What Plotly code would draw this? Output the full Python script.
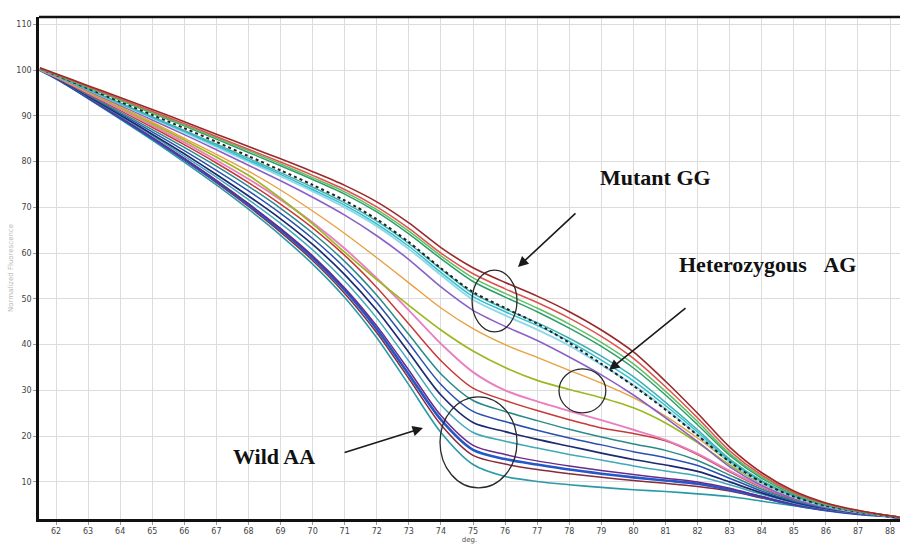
import plotly.graph_objects as go

# temperature nodes (deg)
temps = [61.5, 62, 63, 64, 65, 66, 67, 68, 69, 70, 71, 72, 73, 74, 75, 76, 77, 78,
         79, 80, 81, 82, 83, 84, 85, 86, 87, 88, 88.3]

# ---- Mutant GG curves ----
mut_1 = [100.5, 99.2, 96.6, 94.0, 91.4, 88.7, 86.0, 83.3, 80.6, 77.8, 74.8, 71.2, 66.6, 61.2, 56.8, 53.6, 50.6, 47.2, 43.2, 38.4, 32.0, 25.0, 17.6, 12.0, 8.0, 5.4, 3.8, 2.6, 2.3]
mut_2 = [100.4, 99.1, 96.4, 93.7, 91.0, 88.3, 85.5, 82.7, 79.9, 77.0, 73.9, 70.1, 65.4, 60.0, 55.5, 52.2, 49.2, 45.8, 41.8, 37.0, 30.8, 24.0, 16.8, 11.5, 7.7, 5.3, 3.7, 2.6, 2.3]
mut_3 = [100.4, 99.0, 96.3, 93.5, 90.8, 88.0, 85.2, 82.4, 79.5, 76.5, 73.4, 69.5, 64.8, 59.4, 54.6, 51.2, 48.0, 44.5, 40.5, 35.8, 29.8, 23.2, 16.2, 11.1, 7.5, 5.1, 3.7, 2.6, 2.3]
mut_4 = [100.3, 99.0, 96.2, 93.4, 90.6, 87.8, 84.9, 82.0, 79.1, 76.1, 72.9, 69.0, 64.2, 58.8, 53.8, 50.4, 47.2, 43.6, 39.6, 34.9, 29.0, 22.5, 15.8, 10.8, 7.3, 5.0, 3.6, 2.6, 2.3]
mut_5 = [100.3, 98.9, 96.0, 93.1, 90.2, 87.3, 84.3, 81.2, 78.1, 74.9, 71.5, 67.4, 62.4, 56.7, 51.5, 48.0, 44.6, 40.4, 35.8, 31.0, 25.8, 20.2, 14.4, 9.9, 6.8, 4.8, 3.5, 2.5, 2.2]
mut_6 = [100.2, 98.8, 95.8, 92.8, 89.8, 86.8, 83.8, 80.7, 77.6, 74.4, 71.0, 67.0, 62.1, 56.5, 51.2, 47.8, 44.8, 41.4, 37.5, 33.0, 27.4, 21.4, 15.0, 10.3, 7.0, 4.9, 3.5, 2.5, 2.2]
mut_7 = [100.2, 98.8, 95.7, 92.7, 89.6, 86.6, 83.5, 80.3, 77.2, 73.9, 70.5, 66.4, 61.5, 55.8, 50.5, 47.2, 44.2, 40.7, 36.6, 32.1, 26.7, 20.9, 14.7, 10.1, 6.9, 4.8, 3.5, 2.5, 2.2]
mut_8 = [100.2, 98.8, 95.7, 92.6, 89.5, 86.4, 83.2, 80.0, 76.8, 73.5, 70.0, 65.9, 60.9, 55.2, 49.8, 46.4, 43.3, 39.8, 35.6, 31.2, 26.0, 20.3, 14.3, 9.8, 6.7, 4.7, 3.4, 2.5, 2.2]
mut_9 = [100.2, 98.7, 95.5, 92.3, 89.1, 85.9, 82.6, 79.2, 75.8, 72.2, 68.3, 63.8, 58.6, 52.6, 47.5, 44.0, 40.9, 37.3, 33.4, 29.0, 24.0, 18.8, 13.3, 9.2, 6.3, 4.5, 3.3, 2.5, 2.2]

# ---- Heterozygous AG curves ----
het_1 = [100.1, 98.6, 95.3, 92.0, 88.6, 85.1, 81.6, 77.9, 73.8, 69.2, 64.3, 59.0, 53.5, 48.0, 43.5, 40.0, 37.2, 34.4, 31.6, 28.4, 24.4, 19.6, 14.3, 10.0, 7.0, 5.0, 3.6, 2.6, 2.3]
het_2 = [100.1, 98.6, 95.2, 91.8, 88.3, 84.7, 81.0, 77.0, 72.0, 66.4, 60.2, 54.2, 48.6, 43.2, 38.6, 35.0, 32.2, 30.2, 28.4, 26.2, 22.9, 18.6, 13.7, 9.7, 6.8, 4.9, 3.5, 2.6, 2.3]
het_3 = [100.0, 98.5, 95.0, 91.5, 87.9, 84.2, 80.3, 76.2, 71.7, 66.7, 61.0, 54.5, 47.5, 40.2, 34.0, 30.0, 27.6, 25.5, 23.5, 21.4, 19.2, 16.2, 12.4, 9.0, 6.4, 4.6, 3.4, 2.5, 2.2]

# ---- Wild AA curves ----
wild_1 = [100.0, 98.4, 94.8, 91.2, 87.5, 83.7, 79.7, 75.4, 70.7, 65.5, 59.5, 52.5, 44.5, 36.5, 30.5, 27.8, 25.6, 23.6, 21.8, 20.6, 19.0, 16.0, 12.2, 8.8, 6.2, 4.5, 3.3, 2.5, 2.2]
wild_2 = [100.0, 98.4, 94.6, 90.8, 87.0, 83.1, 79.0, 74.6, 69.8, 64.4, 58.2, 50.8, 42.2, 33.6, 27.8, 25.4, 23.4, 21.5, 19.8, 18.3, 16.9, 14.7, 11.5, 8.4, 6.0, 4.4, 3.3, 2.5, 2.2]
wild_3 = [100.0, 98.4, 94.5, 90.5, 86.5, 82.4, 78.1, 73.6, 68.7, 63.2, 56.8, 49.2, 40.3, 31.3, 25.4, 23.2, 21.3, 19.6, 18.1, 16.6, 15.3, 13.6, 10.8, 8.0, 5.8, 4.3, 3.2, 2.5, 2.2]
wild_4 = [100.0, 98.3, 94.3, 90.2, 86.0, 81.7, 77.2, 72.5, 67.5, 61.9, 55.3, 47.5, 38.3, 29.0, 23.0, 21.0, 19.3, 17.8, 16.3, 14.9, 13.7, 12.3, 10.0, 7.6, 5.6, 4.2, 3.2, 2.5, 2.2]
wild_5 = [100.0, 98.3, 94.2, 90.0, 85.7, 81.2, 76.6, 71.7, 66.5, 60.7, 53.9, 45.8, 36.4, 26.8, 20.8, 18.9, 17.4, 16.0, 14.8, 13.5, 12.4, 11.3, 9.4, 7.3, 5.4, 4.1, 3.1, 2.4, 2.2]
wild_6 = [100.0, 98.3, 94.0, 89.7, 85.3, 80.7, 75.9, 70.8, 65.4, 59.4, 52.4, 44.1, 34.4, 24.5, 18.0, 16.0, 14.6, 13.5, 12.5, 11.6, 10.8, 10.0, 8.6, 6.8, 5.1, 3.9, 3.0, 2.4, 2.1]
wild_7 = [100.0, 98.2, 94.0, 89.6, 85.1, 80.5, 75.7, 70.6, 65.1, 59.0, 51.9, 43.4, 33.5, 23.6, 17.0, 15.0, 13.8, 12.7, 11.8, 11.0, 10.3, 9.6, 8.3, 6.7, 5.0, 3.8, 3.0, 2.4, 2.1]
wild_8 = [100.0, 98.2, 93.9, 89.5, 85.0, 80.3, 75.4, 70.2, 64.6, 58.4, 51.2, 42.6, 32.6, 22.5, 15.8, 13.9, 12.7, 11.8, 11.0, 10.3, 9.7, 9.0, 8.0, 6.5, 5.0, 3.8, 3.0, 2.4, 2.1]
wild_9 = [100.0, 98.2, 93.8, 89.3, 84.7, 79.9, 74.9, 69.6, 63.9, 57.6, 50.3, 41.5, 31.2, 20.8, 13.8, 11.2, 10.1, 9.4, 8.8, 8.3, 7.9, 7.4, 6.8, 5.8, 4.8, 3.8, 3.0, 2.4, 2.1]

y_ticks = [10, 20, 30, 40, 50, 60, 70, 80, 90, 100, 110]
x_ticks = list(range(62, 89))

series = [
    (wild_9, '#2a9aa8', 1.6, 'solid'),
    (wild_8, '#8a2a3a', 1.5, 'solid'),
    (wild_7, '#2258c8', 2.6, 'solid'),
    (wild_6, '#6a2a8a', 1.5, 'solid'),
    (wild_5, '#40a8b8', 1.5, 'solid'),
    (wild_4, '#1c2a70', 1.7, 'solid'),
    (wild_3, '#2a50b0', 1.5, 'solid'),
    (wild_2, '#2a8a8a', 1.5, 'solid'),
    (wild_1, '#c83a3a', 1.5, 'solid'),
    (het_3, '#e880c0', 1.9, 'solid'),
    (het_2, '#9cb820', 1.7, 'solid'),
    (het_1, '#e8a040', 1.4, 'solid'),
    (mut_9, '#8a60c8', 1.6, 'solid'),
    (mut_8, '#90d8e8', 1.9, 'solid'),
    (mut_7, '#30c0d0', 1.5, 'solid'),
    (mut_6, '#40b0b0', 1.5, 'solid'),
    (mut_5, '#222222', 2.0, 'dot'),
    (mut_4, '#2e9e6e', 1.5, 'solid'),
    (mut_3, '#60c060', 1.5, 'solid'),
    (mut_2, '#e05050', 1.5, 'solid'),
    (mut_1, '#9a2a2a', 1.6, 'solid'),
]

fig = go.Figure()
for vals, col, w, dash in series:
    fig.add_trace(go.Scatter(x=temps, y=vals, mode='lines',
                             line=dict(color=col, width=w, dash=dash, shape='spline', smoothing=0.8),
                             showlegend=False, hoverinfo='skip'))

# ellipses
ell = dict(type='circle', xref='x', yref='y', line=dict(color='#2a2a2a', width=1.3))
fig.add_shape(x0=74.97, x1=76.37, y0=42.8, y1=56.3, **ell)
fig.add_shape(x0=77.68, x1=79.14, y0=25.1, y1=34.7, **ell)
fig.add_shape(x0=73.97, x1=76.37, y0=8.7, y1=28.6, **ell)
# top border
fig.add_shape(type='line', xref='paper', yref='paper', x0=0, x1=1, y0=1, y1=1,
              line=dict(color='#111111', width=2.5))

lab_font = dict(family='Liberation Serif, Times New Roman, serif', size=22, color='#111111')
fig.add_annotation(x=80.70, y=76.6, xref='x', yref='y', text='<b>Mutant GG</b>',
                   showarrow=False, font=lab_font)
fig.add_annotation(x=84.19, y=57.6, xref='x', yref='y', text='<b>Heterozygous&nbsp;&nbsp;&nbsp;AG</b>',
                   showarrow=False, font=lab_font)
fig.add_annotation(x=68.80, y=15.6, xref='x', yref='y', text='<b>Wild AA</b>',
                   showarrow=False, font=lab_font)

arr = dict(xref='x', yref='y', axref='x', ayref='y', text='', showarrow=True,
           arrowhead=2, arrowsize=1.3, arrowwidth=1.6, arrowcolor='#1a1a1a')
fig.add_annotation(x=76.40, y=56.97, ax=78.24, ay=68.98, **arr)
fig.add_annotation(x=79.24, y=34.47, ax=81.67, ay=48.23, **arr)
fig.add_annotation(x=73.44, y=21.80, ax=70.95, ay=16.34, **arr)

tick_font = dict(family='DejaVu Sans, sans-serif', size=8, color='#444444')
fig.update_layout(
    width=902, height=548,
    margin=dict(l=39, r=2, t=17, b=29),
    paper_bgcolor='white', plot_bgcolor='white',
    xaxis=dict(range=[61.47, 88.31], tickmode='array', tickvals=x_ticks,
               ticktext=[str(v) for v in x_ticks], automargin=False,
               showgrid=True, gridcolor='#dcdcdc', gridwidth=1,
               showline=True, linecolor='#111111', linewidth=2.5,
               ticks='outside', ticklen=3, tickcolor='#999999',
               tickfont=tick_font, zeroline=False,
               title=dict(text='deg.', font=dict(family='DejaVu Sans, sans-serif', size=7, color='#555555'),
                          standoff=0)),
    yaxis=dict(range=[1.9, 111.6], tickmode='array', tickvals=y_ticks,
               ticktext=[str(v) for v in y_ticks], automargin=False,
               showgrid=True, gridcolor='#dcdcdc', gridwidth=1,
               showline=True, linecolor='#111111', linewidth=2.5,
               ticks='outside', ticklen=3, tickcolor='#999999',
               tickfont=tick_font, zeroline=False,
               title=dict(text='Normalized Fluorescence',
                          font=dict(family='DejaVu Sans, sans-serif', size=7, color='#b8b8b8'),
                          standoff=2)),
)

fig.write_html('out.html', config={'displayModeBar': False},
               post_script="document.body.style.margin='0';document.body.style.overflow='hidden';")
